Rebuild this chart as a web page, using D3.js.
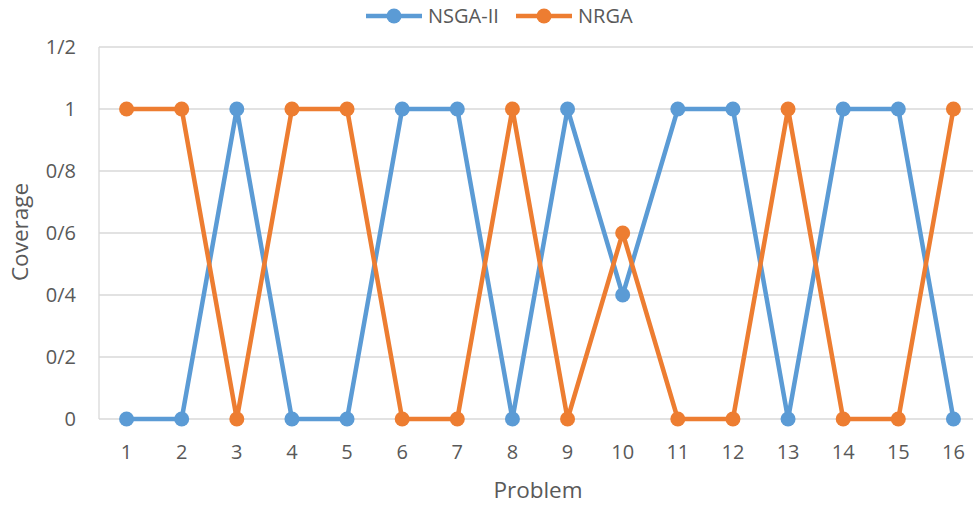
<!DOCTYPE html>
<html>
<head>
<meta charset="utf-8">
<script src="https://cdn.jsdelivr.net/npm/d3@7/dist/d3.min.js"></script>
<style>
  html, body { margin: 0; padding: 0; background: #fff; overflow: hidden; }
  svg { display: block; font-family: "Open Sans", "Noto Sans", sans-serif; }
</style>
</head>
<body>
<svg id="chart" width="973" height="506"></svg>
<script>
// Coverage per benchmark problem for the two algorithms
const problems = [1, 2, 3, 4, 5, 6, 7, 8, 9, 10, 11, 12, 13, 14, 15, 16];
const nsga2 = [0, 0, 1, 0, 0, 1, 1, 0, 1, 0.4, 1, 1, 0, 1, 1, 0];
const nrga  = [1, 1, 0, 1, 1, 0, 0, 1, 0, 0.6, 0, 0, 1, 0, 0, 1];
const yTicks = [0, 0.2, 0.4, 0.6, 0.8, 1, 1.2];
const yTickLabels = ["0", "0/2", "0/4", "0/6", "0/8", "1", "1/2"];
const seriesNames = ["NSGA-II", "NRGA"];
const seriesColors = ["#5B9BD5", "#ED7D31"];

const svg = d3.select("#chart");
const margin = { left: 99, top: 47, right: 981, bottom: 419 };

const x = d3.scalePoint()
  .domain(problems)
  .range([margin.left, margin.right])
  .padding(0.5);

const y = d3.scaleLinear()
  .domain([0, 1.2])
  .range([margin.bottom, margin.top]);

const textColor = "#595959";
const gridColor = "#D9D9D9";

// horizontal gridlines
svg.append("g")
  .selectAll("line")
  .data(yTicks)
  .join("line")
  .attr("x1", margin.left)
  .attr("x2", margin.right)
  .attr("y1", d => y(d))
  .attr("y2", d => y(d))
  .attr("stroke", gridColor)
  .attr("stroke-width", 1.3);

// left axis line
svg.append("line")
  .attr("x1", margin.left).attr("x2", margin.left)
  .attr("y1", y(1.2)).attr("y2", y(0))
  .attr("stroke", gridColor).attr("stroke-width", 1.3);

// y tick labels
svg.append("g")
  .selectAll("text")
  .data(yTicks)
  .join("text")
  .attr("x", 76)
  .attr("y", d => y(d))
  .attr("dy", "0.35em")
  .attr("text-anchor", "end")
  .attr("fill", textColor)
  .attr("font-size", 20)
  .text((d, i) => yTickLabels[i]);

// x tick labels
svg.append("g")
  .selectAll("text")
  .data(problems)
  .join("text")
  .attr("x", d => x(d))
  .attr("y", 459)
  .attr("text-anchor", "middle")
  .attr("fill", textColor)
  .attr("font-size", 20)
  .text(d => d);

// axis titles
svg.append("text")
  .attr("x", 538).attr("y", 498)
  .attr("text-anchor", "middle")
  .attr("fill", textColor)
  .attr("font-size", 22.5)
  .text("Problem");

svg.append("text")
  .attr("transform", `translate(28,${232}) rotate(-90)`)
  .attr("text-anchor", "middle")
  .attr("fill", textColor)
  .attr("font-size", 22.5)
  .text("Coverage");

// series lines and markers
const series = [nsga2, nrga];
const line = d3.line()
  .x((d, i) => x(problems[i]))
  .y(d => y(d));

series.forEach((vals, s) => {
  const g = svg.append("g");
  g.append("path")
    .datum(vals)
    .attr("d", line)
    .attr("fill", "none")
    .attr("stroke", seriesColors[s])
    .attr("stroke-width", 4.5)
    .attr("stroke-linejoin", "round");
  g.selectAll("circle")
    .data(vals)
    .join("circle")
    .attr("cx", (d, i) => x(problems[i]))
    .attr("cy", d => y(d))
    .attr("r", 7.5)
    .attr("fill", seriesColors[s]);
});

// legend
const legendItems = [
  { name: seriesNames[0], color: seriesColors[0], x0: 366 },
  { name: seriesNames[1], color: seriesColors[1], x0: 516 }
];
const lg = svg.append("g");
legendItems.forEach(it => {
  lg.append("line")
    .attr("x1", it.x0).attr("x2", it.x0 + 56)
    .attr("y1", 16).attr("y2", 16)
    .attr("stroke", it.color).attr("stroke-width", 4.5);
  lg.append("circle")
    .attr("cx", it.x0 + 28).attr("cy", 16).attr("r", 7.5)
    .attr("fill", it.color);
  lg.append("text")
    .attr("x", it.x0 + 62).attr("y", 16)
    .attr("dy", "0.35em")
    .attr("fill", textColor)
    .attr("font-size", 20)
    .text(it.name);
});
</script>
</body>
</html>
